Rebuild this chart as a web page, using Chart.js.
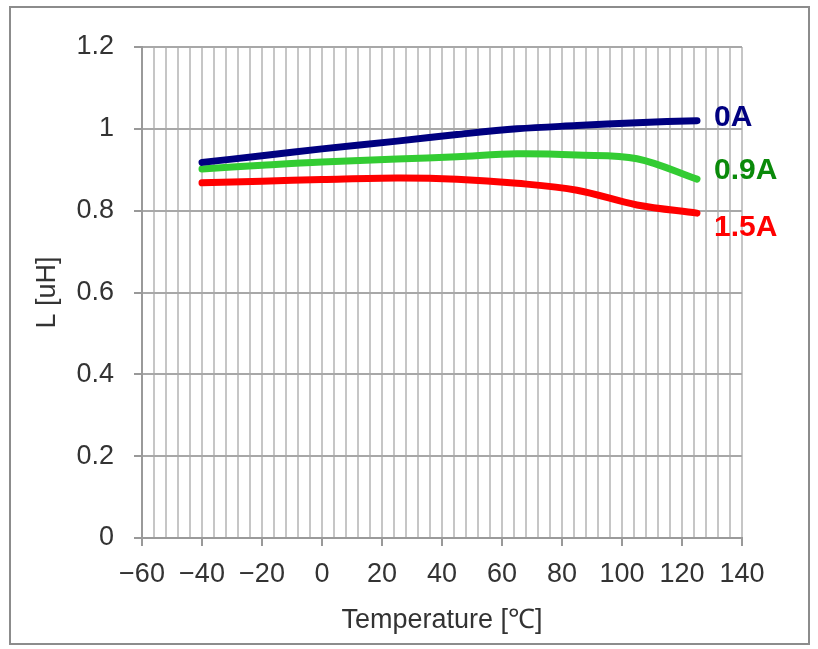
<!DOCTYPE html>
<html>
<head>
<meta charset="utf-8">
<script src="https://cdn.jsdelivr.net/npm/chart.js@4/dist/chart.umd.min.js"></script>
<style>
    html, body { margin: 0; padding: 0; background: #fff; }
    #wrap { position: relative; width: 818px; height: 649px; }
    #frame { position: absolute; left: 9px; top: 6px; width: 797px; height: 635px; border: 2px solid #8c8c8c; pointer-events: none; }
</style>
</head>
<body>
<div id="wrap">
    <canvas id="chart" width="818" height="649"></canvas>
    <div id="frame"></div>
</div>
<script>
// temperature points [°C]
const temps = [-40, -20, 0, 25, 45, 65, 85, 105, 125];
// inductance [uH] per bias current
const l0A   = [0.918, 0.934, 0.951, 0.970, 0.986, 1.000, 1.008, 1.015, 1.020];
const l09A  = [0.902, 0.911, 0.919, 0.926, 0.932, 0.939, 0.936, 0.927, 0.877];
const l15A  = [0.868, 0.872, 0.876, 0.880, 0.877, 0.867, 0.850, 0.814, 0.794];
const seriesNames = ['0A', '0.9A', '1.5A'];

const lineColors = ['#000080', '#33cc33', '#ff0000'];
const textColors = ['#000080', '#0a8a0a', '#ff0000'];
const labelNudge = [-3, -8, 15];

const FONT = "'Liberation Sans', Arial, sans-serif";

function pts(vals) {
    return temps.map((t, i) => ({ x: t, y: vals[i] }));
}

// series names drawn next to the last point of each line
const endLabels = {
    id: 'endLabels',
    afterDatasetsDraw(chart) {
        const ctx = chart.ctx;
        ctx.save();
        ctx.font = 'bold 30px ' + FONT;
        ctx.textBaseline = 'middle';
        ctx.textAlign = 'left';
        chart.data.datasets.forEach((ds, i) => {
            const meta = chart.getDatasetMeta(i);
            const last = meta.data[meta.data.length - 1];
            ctx.fillStyle = textColors[i];
            ctx.fillText(seriesNames[i], last.x + 17, last.y + labelNudge[i]);
        });
        ctx.restore();
    }
};

new Chart(document.getElementById('chart'), {
    type: 'line',
    data: {
        datasets: [l0A, l09A, l15A].map((vals, i) => ({
            label: seriesNames[i],
            data: pts(vals),
            borderColor: lineColors[i],
            backgroundColor: lineColors[i],
            borderWidth: 7,
            borderCapStyle: 'round',
            pointRadius: 0,
            tension: 0.35,
            fill: false
        }))
    },
    options: {
        responsive: false,
        animation: false,
        events: [],
        layout: { padding: { top: 47, right: 76, left: 0, bottom: 0 } },
        plugins: { legend: { display: false }, tooltip: { enabled: false } },
        scales: {
            x: {
                type: 'linear',
                min: -60, max: 140,
                afterFit(s) { s.height = 111; },
                ticks: {
                    stepSize: 4,
                    autoSkip: false,
                    maxRotation: 0,
                    padding: 12,
                    color: '#333',
                    font: { family: FONT, size: 27 },
                    callback: v => (v % 20 === 0 ? String(v).replace('-', '\u2212') : '')
                },
                grid: {
                    color: '#c6c6c6',
                    lineWidth: 2,
                    tickLength: 8,
                    tickColor: c => (c.tick && c.tick.value % 20 === 0 ? '#999' : 'rgba(0,0,0,0)')
                },
                border: { color: '#9a9a9a', width: 2 },
                title: {
                    display: true,
                    text: 'Temperature [\u2103]',
                    color: '#333',
                    font: { family: FONT, size: 27 },
                    padding: { top: 0, bottom: 12 }
                }
            },
            y: {
                min: 0, max: 1.2,
                afterFit(s) { s.width = 142; },
                ticks: {
                    stepSize: 0.2,
                    padding: 20,
                    color: '#333',
                    font: { family: FONT, size: 27 },
                    callback: v => String(Math.round(v * 10) / 10)
                },
                grid: { color: '#a8a8a8', lineWidth: 2, tickLength: 8, tickColor: '#999' },
                border: { color: '#9a9a9a', width: 2 },
                title: {
                    display: true,
                    text: 'L [uH]',
                    color: '#333',
                    font: { family: FONT, size: 27 },
                    padding: { top: 31, bottom: 0 }
                }
            }
        }
    },
    plugins: [endLabels]
});
</script>
</body>
</html>
